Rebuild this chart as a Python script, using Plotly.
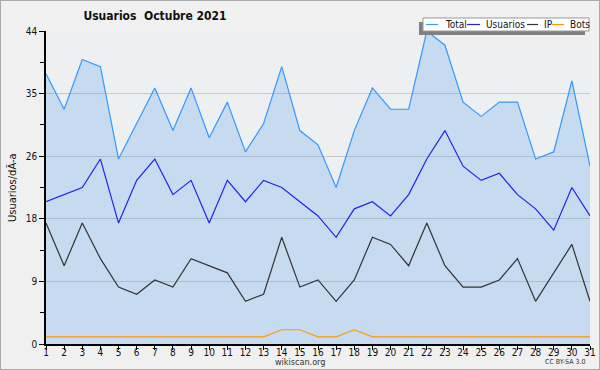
import plotly.graph_objects as go

days = list(range(1, 32))
total = [38, 33, 40, 39, 26, 31, 36, 30, 36, 29, 34, 27, 31, 39, 30, 28, 22, 30, 36, 33, 33, 44, 42, 34, 32, 34, 34, 26, 27, 37, 25]
usuarios = [20, 21, 22, 26, 17, 23, 26, 21, 23, 17, 23, 20, 23, 22, 20, 18, 15, 19, 20, 18, 21, 26, 30, 25, 23, 24, 21, 19, 16, 22, 18]
ip = [17, 11, 17, 12, 8, 7, 9, 8, 12, 11, 10, 6, 7, 15, 8, 9, 6, 9, 15, 14, 11, 17, 11, 8, 8, 9, 12, 6, 10, 14, 6]
bots = [1, 1, 1, 1, 1, 1, 1, 1, 1, 1, 1, 1, 1, 2, 2, 1, 1, 2, 1, 1, 1, 1, 1, 1, 1, 1, 1, 1, 1, 1, 1]

series_names = ["Total", "Usuarios", "IP", "Bots"]
series_colors = ["#3399ff", "#2222ee", "#333333", "#ff9900"]

ytick_vals = [0, 8.8, 17.6, 26.4, 35.2, 44]
ytick_text = ["0", "9", "18", "26", "35", "44"]

FONT = "DejaVu Sans Condensed, DejaVu Sans"

# plot area in pixels
L, R, T, B = 46, 590, 31, 344
W, H = R - L, B - T


def px(x):
    return (x - L) / W


def py(y):
    return (B - y) / H


fig = go.Figure()
for name, vals, col in zip(series_names, [total, usuarios, ip, bots], series_colors):
    kw = {}
    if name == "Total":
        kw = dict(fill="tozeroy", fillcolor="rgba(60,150,235,0.22)")
    fig.add_trace(go.Scatter(x=days, y=vals, name=name, mode="lines",
                             line=dict(color=col, width=1.2), **kw))

shapes = [
    # page border
    dict(type="rect", xref="paper", yref="paper", x0=px(0), x1=px(600), y0=py(370), y1=py(0),
         line=dict(color="#aaaaaa", width=2), layer="above"),
    # legend shadow
    dict(type="rect", xref="paper", yref="paper", x0=px(419), x1=px(585), y0=py(35), y1=py(22),
         line=dict(width=0), fillcolor="#808080", layer="above"),
    # legend box
    dict(type="rect", xref="paper", yref="paper", x0=px(423), x1=px(589), y0=py(31), y1=py(18),
         line=dict(color="#999999", width=1), fillcolor="#ffffff", layer="above"),
]
annotations = [
    dict(text="wikiscan.org", x=px(300), y=py(362), xref="paper", yref="paper",
         xanchor="center", yanchor="middle",
         showarrow=False, font=dict(size=9, family=FONT, color="#333333")),
    dict(text="CC BY-SA 3.0", x=px(565), y=py(362), xref="paper", yref="paper",
         xanchor="center", yanchor="middle",
         showarrow=False, font=dict(size=7, family=FONT, color="#333333")),
    dict(text="Usuarios/dÃ-a", x=px(12), y=py(188), xref="paper", yref="paper",
         xanchor="center", yanchor="middle",
         textangle=-90, showarrow=False, font=dict(size=11, family=FONT, color="#111111")),
]
# legend entries (line sample + label)
leg_lines = [(426, 438), (467, 480), (527, 538), (552, 564)]
leg_text_x = [443, 484, 542, 568]
for name, col, (a, b), tx in zip(series_names, series_colors, leg_lines, leg_text_x):
    shapes.append(dict(type="line", xref="paper", yref="paper", x0=px(a), x1=px(b),
                       y0=py(24.5), y1=py(24.5), line=dict(color=col, width=1.2), layer="above"))
    annotations.append(dict(text=name, x=px(tx), y=py(24.5), xref="paper", yref="paper",
                            xanchor="left", yanchor="middle", showarrow=False,
                            font=dict(size=10, family=FONT, color="#111111")))

fig.update_layout(
    width=600, height=370,
    margin=dict(l=L, r=600 - R, t=T, b=370 - B, autoexpand=False),
    paper_bgcolor="#f0f0f0",
    plot_bgcolor="#eeeff1",
    font=dict(family=FONT, size=10, color="#111111"),
    title=dict(text="<b>Usuarios\u00a0\u00a0Octubre 2021</b>", x=155/600, xanchor="center",
               y=1-16/370, yanchor="middle", xref="container", yref="container",
               font=dict(size=12, family=FONT, color="#111111")),
    showlegend=False,
    xaxis=dict(range=[1, 31], tickmode="linear", tick0=1, dtick=1, automargin=False,
               showgrid=False, zeroline=False, showline=True, linecolor="#000000",
               linewidth=1.5, ticks="outside", ticklen=4, tickcolor="#000000",
               ticklabelstandoff=-6,
               tickfont=dict(size=10, family=FONT)),
    yaxis=dict(range=[0, 44], tickmode="array", tickvals=ytick_vals, ticktext=ytick_text,
               automargin=False,
               showgrid=True, gridcolor="#c8c8c8", gridwidth=1, zeroline=False,
               showline=True, linecolor="#000000", linewidth=1.5,
               ticks="outside", ticklen=5, tickcolor="#000000",
               tickfont=dict(size=10, family=FONT),
               minor=dict(tickmode="linear", tick0=0, dtick=4.4, ticks="outside",
                          ticklen=4, tickcolor="#000000", showgrid=False)),
    shapes=shapes,
    annotations=annotations,
)

fig.write_html("out.html", config={"displayModeBar": False},
               post_script="document.body.style.margin='0px';document.body.style.padding='0px';")
